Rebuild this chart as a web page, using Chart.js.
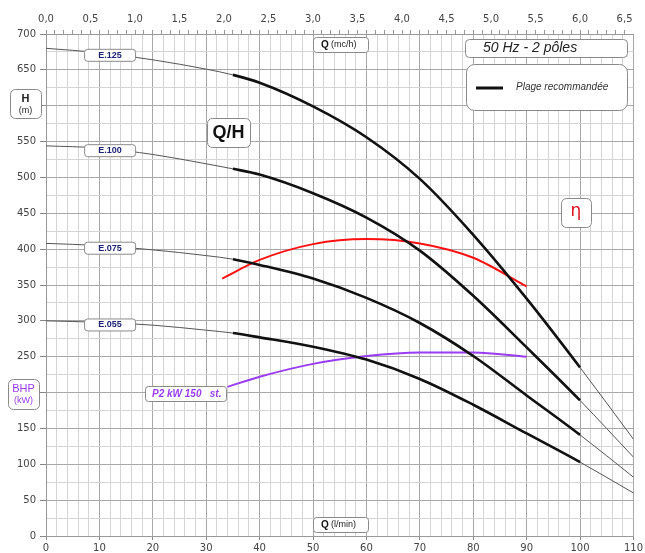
<!DOCTYPE html>
<html>
<head>
<meta charset="utf-8">
<script src="https://cdn.jsdelivr.net/npm/chart.js@4.4.1/dist/chart.umd.min.js"></script>
<style>
html, body { margin: 0; padding: 0; background: #fff; }
canvas { display: block; }
</style>
</head>
<body>
<canvas id="pumpChart" width="645" height="553"></canvas>
<script>
// Q/H curves, Q in l/min, H in m
const flowLmin = [0, 10, 20, 30, 35, 40, 50, 60, 70, 80, 90, 100, 110];
const headE125 = [680, 674, 664, 651, 643, 632, 599, 556, 498, 420, 331, 235, 135];
const headE100 = [544, 541, 532, 519, 512, 504, 478, 444, 398, 335, 263, 189, 110];
const headE075 = [408, 405, 399, 391, 386, 378, 359, 332, 297, 251, 196, 141, 82];
const headE055 = [300, 298, 294, 287, 283, 277, 264, 246, 219, 183, 143, 103, 60];

// efficiency and P2 power curves (read on the left scale)
const effFlow = [33, 40, 50, 60, 70, 80, 90];
const effCurve = [359, 385, 407, 414, 408, 388, 348];
const powerFlow = [34, 40, 50, 60, 70, 80, 90];
const powerCurve = [208, 222, 240, 251, 256, 256, 250];

// recommended range (thick part of the curves)
const recommendedRange = [35, 100];

// tick labels
const bottomTickLabels = ['0', '10', '20', '30', '40', '50', '60', '70', '80', '90', '100', '110'];
const topTickLabels = ['0,0', '0,5', '1,0', '1,5', '2,0', '2,5', '3,0', '3,5', '4,0', '4,5', '5,0', '5,5', '6,0', '6,5'];
const leftTickLabels = ['0', '50', '100', '150', '200', '250', '300', '350', '400', '450', '500', '550', '600', '650', '700'];

const curveNames = ['E.125', 'E.100', 'E.075', 'E.055'];
const curveHeads = [headE125, headE100, headE075, headE055];

const GRID_MAJOR = '#a8a8a8';
const GRID_MINOR = '#d4d4d4';

Chart.defaults.font.family = 'DejaVu Sans';
Chart.defaults.font.size = 10;
Chart.defaults.color = '#444';

const toPoints = (xs, ys) => xs.map((x, i) => ({ x: x, y: ys[i] }));
const inRange = c => c.p0.parsed.x >= recommendedRange[0] && c.p1.parsed.x <= recommendedRange[1];

const datasets = curveHeads.map((heads, i) => ({
    label: curveNames[i],
    data: toPoints(flowLmin, heads),
    borderColor: '#111',
    borderWidth: 1,
    pointRadius: 0,
    fill: false,
    cubicInterpolationMode: 'monotone',
    segment: {
        borderWidth: c => inRange(c) ? 2.6 : 1,
        borderColor: c => inRange(c) ? '#111' : '#555'
    }
}));

datasets.push({
    label: 'eta',
    data: toPoints(effFlow, effCurve),
    borderColor: '#ff1010',
    borderWidth: 2,
    pointRadius: 0,
    fill: false,
    cubicInterpolationMode: 'monotone'
});
datasets.push({
    label: 'P2',
    data: toPoints(powerFlow, powerCurve),
    borderColor: '#9a3cf2',
    borderWidth: 2,
    pointRadius: 0,
    fill: false,
    cubicInterpolationMode: 'monotone'
});

// rounded label boxes and texts
function roundBox(ctx, x, y, w, h, r) {
    ctx.beginPath();
    ctx.roundRect(x + 0.5, y + 0.5, w, h, r);
    ctx.fillStyle = '#fff';
    ctx.fill();
    ctx.strokeStyle = '#8a8a8a';
    ctx.lineWidth = 1;
    ctx.stroke();
}

function text(ctx, str, x, y, font, color, align) {
    ctx.font = font;
    ctx.fillStyle = color;
    ctx.textAlign = align || 'left';
    ctx.textBaseline = 'middle';
    ctx.fillText(str, x, y);
}

const labelPlugin = {
    id: 'labels',
    afterDraw(chart) {
        const ctx = chart.ctx;
        const sx = chart.scales.x, sy = chart.scales.y;
        ctx.save();

        // curve names sitting on the curves at Q = 12
        curveNames.forEach((name, i) => {
            const cx = sx.getPixelForValue(12);
            const cy = sy.getPixelForValue(curveHeads[i][1] - 3);
            roundBox(ctx, cx - 26, cy - 6, 51, 12, 3);
            text(ctx, name, cx, cy + 0.5, 'bold 9px "Liberation Sans"', '#1d2478', 'center');
        });

        // P2 label box
        roundBox(ctx, 145, 386, 81, 15, 3);
        text(ctx, 'P2 kW 150   st.', 152, 394, 'italic bold 10px "Liberation Sans"', '#9a3cf2');

        // Q/H
        roundBox(ctx, 207, 118, 43, 29, 5);
        text(ctx, 'Q/H', 228.5, 133, 'bold 18px "Liberation Sans"', '#111', 'center');

        // H (m)
        roundBox(ctx, 10, 89, 31, 29, 5);
        text(ctx, 'H', 25.5, 99, 'bold 11px "Liberation Sans"', '#222', 'center');
        text(ctx, '(m)', 25.5, 111, '9px "Liberation Sans"', '#222', 'center');

        // BHP (kW)
        roundBox(ctx, 8, 379, 31, 30, 5);
        text(ctx, 'BHP', 23.5, 389, '11px "Liberation Sans"', '#9a3cf2', 'center');
        text(ctx, '(kW)', 23.5, 401, '9px "Liberation Sans"', '#9a3cf2', 'center');

        // Q (mc/h)
        roundBox(ctx, 313, 37, 55, 15, 3);
        text(ctx, 'Q', 321, 45, 'bold 10px "Liberation Sans"', '#111');
        text(ctx, '(mc/h)', 331, 45, '9px "Liberation Sans"', '#222');

        // Q (l/min)
        roundBox(ctx, 313, 517, 55, 15, 3);
        text(ctx, 'Q', 321, 525, 'bold 10px "Liberation Sans"', '#111');
        text(ctx, '(l/min)', 331, 525, '9px "Liberation Sans"', '#222');

        // frequency box
        roundBox(ctx, 465, 39, 162, 18, 4);
        text(ctx, '50 Hz - 2 pôles', 483, 48.5, 'italic 14px "Liberation Sans"', '#222');

        // legend box
        roundBox(ctx, 466, 64, 161, 46, 8);
        ctx.beginPath();
        ctx.moveTo(476, 88);
        ctx.lineTo(503, 88);
        ctx.strokeStyle = '#111';
        ctx.lineWidth = 3;
        ctx.stroke();
        text(ctx, 'Plage recommandée', 516, 87, 'italic 10px "Liberation Sans"', '#333');

        // eta box
        roundBox(ctx, 561, 198, 30, 29, 5);
        text(ctx, 'η', 576, 212, '17px "DejaVu Sans"', '#e0101e', 'center');

        ctx.restore();
    }
};

const ctx = document.getElementById('pumpChart').getContext('2d');
new Chart(ctx, {
    type: 'line',
    data: { datasets: datasets },
    options: {
        responsive: false,
        animation: false,
        layout: { padding: { left: 0, right: 11, top: 0, bottom: 0 } },
        plugins: {
            legend: { display: false },
            tooltip: { enabled: false }
        },
        scales: {
            x: {
                type: 'linear',
                position: 'bottom',
                min: 0,
                max: 110,
                afterFit: s => { s.height = 17; },
                ticks: {
                    stepSize: 2,
                    autoSkip: false,
                    maxRotation: 0,
                    padding: 2,
                    callback: v => v % 10 === 0 ? bottomTickLabels[v / 10] : ''
                },
                grid: {
                    color: c => c.tick && c.tick.value % 10 === 0 ? GRID_MAJOR : GRID_MINOR,
                    tickColor: c => c.tick && c.tick.value % 10 === 0 ? '#888' : 'rgba(0,0,0,0)',
                    tickLength: 4
                },
                border: { color: '#999' }
            },
            x2: {
                type: 'linear',
                position: 'top',
                min: 0,
                max: 6.6,
                afterFit: s => { s.height = 34; },
                afterBuildTicks: s => {
                    const t = [];
                    for (let i = 0; i <= 65; i++) t.push({ value: i / 10 });
                    s.ticks = t;
                },
                ticks: {
                    autoSkip: false,
                    maxRotation: 0,
                    padding: 5,
                    callback: v => {
                        const k = Math.round(v * 10);
                        return k % 5 === 0 ? topTickLabels[k / 5] : '';
                    }
                },
                grid: {
                    drawOnChartArea: false,
                    tickColor: '#999',
                    tickLength: 4
                },
                border: { color: '#999' }
            },
            y: {
                type: 'linear',
                min: 0,
                max: 700,
                afterFit: s => { s.width = 46; },
                ticks: {
                    stepSize: 25,
                    autoSkip: false,
                    padding: 4,
                    callback: v => v % 50 === 0 ? leftTickLabels[v / 50] : ''
                },
                grid: {
                    color: c => c.tick && c.tick.value % 50 === 0 ? GRID_MAJOR : GRID_MINOR,
                    tickColor: c => c.tick && c.tick.value % 50 === 0 ? '#888' : 'rgba(0,0,0,0)',
                    tickLength: 6
                },
                border: { color: '#999' }
            }
        }
    },
    plugins: [labelPlugin]
});
</script>
</body>
</html>
